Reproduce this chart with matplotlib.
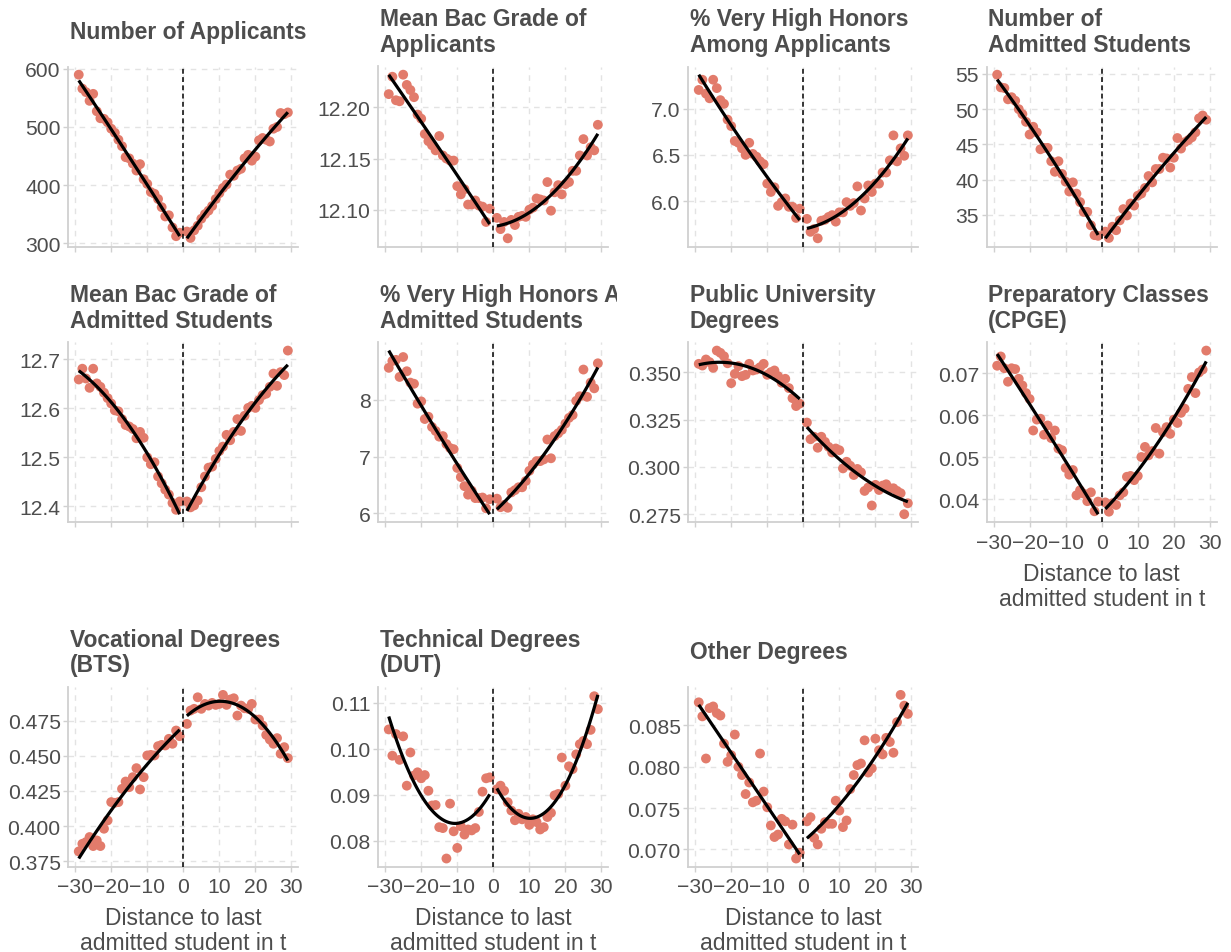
import numpy as np
import matplotlib.pyplot as plt
from matplotlib.transforms import Bbox, TransformedBbox

plt.rcParams['font.family'] = ['Liberation Sans', 'DejaVu Sans']

# distance to the last admitted student (no bin at 0)
x_left = np.arange(-29, 0)
x_right = np.arange(1, 30)
x_all = np.concatenate([x_left, x_right])

# --- values (left side -29..-1, then right side 1..29) ---
n_applicants = [590, 566, 560, 545, 557, 527, 515, 514, 508, 497, 490, 478, 467, 448, 446,
                437, 425, 436, 410, 402, 388, 385, 376, 362, 346, 348, 327, 312, 318,
                320, 309, 322, 330, 342, 350, 356, 364, 376, 386, 395, 401, 418, 416, 425,
                428, 446, 452, 442, 449, 477, 481, 478, 475, 497, 500, 524, 522, 525]
bac_applicants = [12.213, 12.230, 12.207, 12.206, 12.232, 12.222, 12.217, 12.210, 12.193, 12.189,
                  12.174, 12.167, 12.163, 12.158, 12.172, 12.153, 12.150, 12.148, 12.148, 12.123,
                  12.115, 12.120, 12.105, 12.105, 12.109, 12.104, 12.103, 12.088, 12.101,
                  12.092, 12.081, 12.088, 12.072, 12.090, 12.085, 12.093, 12.094, 12.093, 12.100,
                  12.102, 12.111, 12.110, 12.109, 12.127, 12.099, 12.117, 12.124, 12.115, 12.125,
                  12.127, 12.138, 12.138, 12.153, 12.169, 12.153, 12.161, 12.158, 12.183]
vhh_applicants = [7.20, 7.31, 7.16, 7.11, 7.31, 7.22, 7.09, 7.05, 6.88, 6.81, 6.65, 6.63, 6.57,
                  6.50, 6.63, 6.51, 6.48, 6.43, 6.40, 6.19, 6.10, 6.15, 5.95, 5.99, 6.03, 5.94,
                  5.94, 5.82, 5.92,
                  5.81, 5.67, 5.70, 5.60, 5.79, 5.80, 5.83, 5.85, 5.78, 5.88, 5.88, 5.99, 5.95,
                  5.98, 6.16, 5.90, 6.03, 6.17, 6.10, 6.19, 6.19, 6.31, 6.31, 6.44, 6.71, 6.43,
                  6.57, 6.49, 6.71]
n_admitted = [54.9, 53.1, 53.0, 51.4, 51.7, 51.2, 50.0, 49.3, 48.2, 46.4, 47.5, 46.7, 44.3, 44.5,
              44.5, 42.6, 41.1, 42.6, 40.8, 39.7, 38.3, 39.6, 38.0, 36.8, 35.4, 35.4, 33.5, 32.1,
              32.0,
              32.6, 31.7, 33.3, 32.8, 34.2, 35.8, 34.9, 36.6, 36.3, 37.7, 38.0, 38.8, 40.5, 39.6,
              41.5, 41.5, 43.1, 43.0, 41.7, 43.1, 45.9, 44.4, 45.3, 45.6, 46.0, 46.7, 48.7, 49.1,
              48.5]
bac_admitted = [12.659, 12.681, 12.661, 12.642, 12.681, 12.651, 12.644, 12.632, 12.621, 12.610,
                12.596, 12.594, 12.578, 12.566, 12.563, 12.558, 12.539, 12.552, 12.540, 12.500,
                12.486, 12.490, 12.461, 12.447, 12.434, 12.424, 12.407, 12.393, 12.410,
                12.410, 12.398, 12.402, 12.412, 12.439, 12.461, 12.479, 12.481, 12.497, 12.513,
                12.522, 12.546, 12.535, 12.552, 12.578, 12.554, 12.585, 12.601, 12.605, 12.601,
                12.617, 12.627, 12.630, 12.644, 12.671, 12.646, 12.674, 12.668, 12.718]
vhh_admitted = [8.56, 8.68, 8.70, 8.40, 8.75, 8.50, 8.30, 8.28, 7.93, 7.97, 7.66, 7.70, 7.52,
                7.45, 7.35, 7.36, 7.22, 7.15, 7.13, 6.80, 6.64, 6.48, 6.33, 6.40, 6.27, 6.27,
                6.28, 6.09, 6.25,
                6.26, 6.11, 6.15, 6.10, 6.37, 6.41, 6.46, 6.46, 6.57, 6.75, 6.86, 6.92, 6.92,
                6.95, 7.30, 6.97, 7.36, 7.41, 7.47, 7.58, 7.68, 7.73, 7.98, 8.06, 8.53, 8.05,
                8.30, 8.20, 8.64]
public_univ = [0.3544, 0.3535, 0.3567, 0.3553, 0.3523, 0.3614, 0.3602, 0.3584, 0.3547, 0.3442,
               0.3491, 0.3532, 0.3479, 0.3486, 0.3544, 0.3509, 0.3514, 0.3526, 0.3544, 0.3486,
               0.3500, 0.3509, 0.3479, 0.3444, 0.3465, 0.3416, 0.3363, 0.3321, 0.3334,
               0.3234, 0.3146, 0.3159, 0.3101, 0.3159, 0.3132, 0.3106, 0.3076, 0.3097, 0.3088,
               0.2992, 0.3027, 0.3006, 0.2957, 0.2989, 0.2971, 0.2873, 0.2891, 0.2796, 0.2905,
               0.2878, 0.2901, 0.2908, 0.2887, 0.2887, 0.2873, 0.2861, 0.2750, 0.2808]
cpge = [0.0718, 0.0740, 0.0712, 0.0680, 0.0712, 0.0710, 0.0687, 0.0671, 0.0653, 0.0639,
        0.0564, 0.0590, 0.0592, 0.0554, 0.0576, 0.0546, 0.0564, 0.0521, 0.0517, 0.0475,
        0.0459, 0.0470, 0.0410, 0.0422, 0.0414, 0.0396, 0.0417, 0.0372, 0.0395,
        0.0393, 0.0371, 0.0391, 0.0387, 0.0410, 0.0417, 0.0454, 0.0456, 0.0446, 0.0456,
        0.0501, 0.0525, 0.0505, 0.0515, 0.0570, 0.0509, 0.0560, 0.0572, 0.0556, 0.0590,
        0.0582, 0.0606, 0.0616, 0.0663, 0.0691, 0.0653, 0.0702, 0.0709, 0.0754]
bts = [0.3821, 0.3875, 0.3887, 0.3923, 0.3859, 0.3899, 0.3859, 0.3982, 0.4041, 0.4171,
       0.4166, 0.4171, 0.4265, 0.4317, 0.4277, 0.4348, 0.4412, 0.4261, 0.4348, 0.4502,
       0.4506, 0.4502, 0.4568, 0.4577, 0.4573, 0.4620, 0.4585, 0.4679, 0.4639,
       0.4726, 0.4821, 0.4833, 0.4915, 0.4833, 0.4868, 0.4856, 0.4875, 0.4861, 0.4868,
       0.4932, 0.4861, 0.4899, 0.4908, 0.4785, 0.4856, 0.4837, 0.4833, 0.4868, 0.4757,
       0.4757, 0.4715, 0.4648, 0.4615, 0.4585, 0.4625, 0.4514, 0.4561, 0.4483]
dut = [0.1042, 0.0985, 0.1032, 0.0976, 0.1027, 0.0920, 0.0992, 0.0942, 0.0949, 0.0936,
       0.0943, 0.0909, 0.0877, 0.0878, 0.0830, 0.0828, 0.0762, 0.0881, 0.0821, 0.0785,
       0.0832, 0.0814, 0.0825, 0.0823, 0.0828, 0.0863, 0.0907, 0.0936, 0.0938,
       0.0912, 0.0920, 0.0909, 0.0884, 0.0866, 0.0845, 0.0859, 0.0847, 0.0852, 0.0835,
       0.0847, 0.0841, 0.0825, 0.0830, 0.0852, 0.0861, 0.0899, 0.0902, 0.0981, 0.0920,
       0.0962, 0.0956, 0.0988, 0.1010, 0.1017, 0.1010, 0.1041, 0.1114, 0.1086]
other = [0.0878, 0.0861, 0.0810, 0.0871, 0.0873, 0.0865, 0.0862, 0.0828, 0.0806, 0.0814,
         0.0839, 0.0800, 0.0790, 0.0767, 0.0781, 0.0757, 0.0759, 0.0816, 0.0770, 0.0751,
         0.0729, 0.0715, 0.0718, 0.0737, 0.0734, 0.0706, 0.0730, 0.0689, 0.0696,
         0.0734, 0.0739, 0.0714, 0.0706, 0.0725, 0.0733, 0.0731, 0.0731, 0.0759, 0.0747,
         0.0727, 0.0735, 0.0773, 0.0790, 0.0802, 0.0804, 0.0832, 0.0793, 0.0798, 0.0834,
         0.0820, 0.0815, 0.0835, 0.0830, 0.0817, 0.0854, 0.0887, 0.0874, 0.0864]

titles = ["Number of Applicants", "Mean Bac Grade of\nApplicants",
          "% Very High Honors\nAmong Applicants", "Number of\nAdmitted Students",
          "Mean Bac Grade of\nAdmitted Students", "% Very High Honors Among\nAdmitted Students",
          "Public University\nDegrees", "Preparatory Classes\n(CPGE)",
          "Vocational Degrees\n(BTS)", "Technical Degrees\n(DUT)", "Other Degrees"]
series = [n_applicants, bac_applicants, vhh_applicants, n_admitted, bac_admitted,
          vhh_admitted, public_univ, cpge, bts, dut, other]
yticks = [[300, 400, 500, 600], [12.10, 12.15, 12.20], [6.0, 6.5, 7.0],
          [35, 40, 45, 50, 55], [12.4, 12.5, 12.6, 12.7], [6, 7, 8],
          [0.275, 0.300, 0.325, 0.350], [0.04, 0.05, 0.06, 0.07],
          [0.375, 0.400, 0.425, 0.450, 0.475], [0.08, 0.09, 0.10, 0.11],
          [0.070, 0.075, 0.080, 0.085]]
yfmt = ["{:.0f}", "{:.2f}", "{:.1f}", "{:.0f}", "{:.1f}", "{:.0f}",
        "{:.3f}", "{:.2f}", "{:.3f}", "{:.2f}", "{:.3f}"]
xticks = [-30, -20, -10, 0, 10, 20, 30]
x_label = "Distance to last\nadmitted student in t"
show_x = [False, False, False, False, False, False, False, True, True, True, True]

# layout in pixels
W, H = 1231, 953
col_left = [68.3, 378.3, 688.3, 986.7]
panel_w = 230
row_top = [67.5, 343.4, 687.7]
panel_h = 180

txt = '#4D4D4D'
pt_col = '#E27B6B'
grid_col = '#E3E3E3'
axis_col = '#D0D0D0'

fig = plt.figure(figsize=(W / 100, H / 100), dpi=100)

for i, (title, vals) in enumerate(zip(titles, series)):
    r, c = divmod(i, 4)
    ax = fig.add_axes([col_left[c] / W, 1 - (row_top[r] + panel_h) / H,
                       panel_w / W, panel_h / H])
    y = np.array(vals, dtype=float)
    yl, yr = y[:29], y[29:]

    ax.scatter(x_all, y, s=50, color=pt_col, edgecolors='none', zorder=2)

    # quadratic fit on each side of the cutoff
    lines_y = []
    for xs, ys in [(x_left, yl), (x_right, yr)]:
        coef = np.polyfit(xs, ys, 2)
        xf = np.linspace(xs.min(), xs.max(), 100)
        yf = np.polyval(coef, xf)
        lines_y.append(yf)
        ax.plot(xf, yf, color='black', lw=2.3, zorder=3, solid_capstyle='butt')

    ax.axvline(0, color='black', lw=1.1, linestyle=(0, (3.2, 2.2)), zorder=4)

    lo = min(y.min(), min(l.min() for l in lines_y))
    hi = max(y.max(), max(l.max() for l in lines_y))
    pad = 0.05 * (hi - lo)
    ax.set_ylim(lo - pad, hi + pad)
    ax.set_xlim(-31.9, 31.9)

    ax.set_xticks(xticks)
    ax.set_yticks(yticks[i])
    ax.set_yticklabels([yfmt[i].format(v) for v in yticks[i]])
    if show_x[i]:
        ax.set_xticklabels([str(v).replace('-', '\u2212') for v in xticks])
        ax.set_xlabel(x_label, fontsize=16.5, color=txt, labelpad=7, linespacing=1.12)
    else:
        ax.set_xticklabels([])

    ax.grid(True, color=grid_col, lw=1.0, linestyle=(0, (4, 4)), zorder=0)
    ax.set_axisbelow(True)
    for s in ['top', 'right']:
        ax.spines[s].set_visible(False)
    for s in ['left', 'bottom']:
        ax.spines[s].set_color(axis_col)
        ax.spines[s].set_linewidth(1.3)
    ax.tick_params(axis='both', length=3.5, width=1.0, color=axis_col,
                   labelsize=15.2, labelcolor=txt, pad=2)
    ax.tick_params(axis='x', pad=4)

    t = ax.annotate(title, xy=(0, 1), xycoords='axes fraction', xytext=(1, 25),
                    textcoords='offset points', ha='left', va='center',
                    fontsize=16.5, fontweight='bold', color=txt, linespacing=1.15,
                    annotation_clip=False)
    # strip text is cut at the next panel in the original
    cl = TransformedBbox(Bbox([[(col_left[c] - 60) / W, 0], [(col_left[c] + 239) / W, 1]]),
                         fig.transFigure)
    t.set_clip_box(cl)
    t.set_clip_on(True)

fig.savefig('out.png', dpi=100)
